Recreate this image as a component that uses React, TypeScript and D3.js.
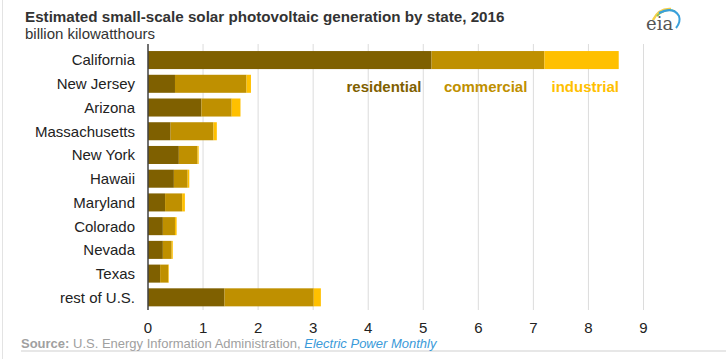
import { useEffect, useRef } from 'react'
import * as d3 from 'd3'

const STATES = [
  'California',
  'New Jersey',
  'Arizona',
  'Massachusetts',
  'New York',
  'Hawaii',
  'Maryland',
  'Colorado',
  'Nevada',
  'Texas',
  'rest of U.S.',
]
const RESIDENTIAL = [5.15, 0.49, 0.97, 0.41, 0.56, 0.47, 0.31, 0.27, 0.27, 0.22, 1.39]
const COMMERCIAL = [2.05, 1.3, 0.55, 0.78, 0.34, 0.25, 0.31, 0.22, 0.16, 0.15, 1.62]
const INDUSTRIAL = [1.35, 0.08, 0.16, 0.06, 0.02, 0.03, 0.05, 0.03, 0.02, 0.01, 0.13]
const SERIES = ['residential', 'commercial', 'industrial'] as const
const X_TICKS = [0, 1, 2, 3, 4, 5, 6, 7, 8, 9]

const WIDTH = 726
const HEIGHT = 359
const COLORS = ['#7f6000', '#bf9000', '#ffc000']
const SANS = '"Liberation Sans", Arial, sans-serif'

function App() {
  const ref = useRef<HTMLDivElement>(null)

  useEffect(() => {
    document.body.style.margin = '0'
    const container = ref.current
    if (!container) return
    d3.select(container).selectAll('svg').remove()

    const svg = d3
      .select(container)
      .append('svg')
      .attr('width', WIDTH)
      .attr('height', HEIGHT)
      .style('display', 'block')
      .style('background', '#fff')

    const x = d3.scaleLinear().domain([0, 9]).range([148, 643.5])
    const y = d3
      .scaleBand()
      .domain(STATES)
      .range([48.2, 309.2])
      .paddingInner(0.24)
      .paddingOuter(0.12)

    const rows = STATES.map((s, i) => ({
      state: s,
      residential: RESIDENTIAL[i],
      commercial: COMMERCIAL[i],
      industrial: INDUSTRIAL[i],
    }))
    const stacked = d3.stack<(typeof rows)[number]>().keys(SERIES as unknown as string[])(rows)

    // frame bits
    svg.append('line')
      .attr('x1', 2.5).attr('x2', 2.5).attr('y1', 0).attr('y2', HEIGHT)
      .attr('stroke', '#e3e3e3')
    svg.append('line')
      .attr('x1', 21).attr('x2', WIDTH).attr('y1', 351).attr('y2', 351)
      .attr('stroke', '#cfcfcf')

    // title
    svg.append('text')
      .attr('x', 25).attr('y', 22)
      .attr('font-family', SANS).attr('font-weight', 'bold').attr('font-size', 15.2)
      .attr('fill', '#333')
      .text('Estimated small-scale solar photovoltaic generation by state, 2016')
    svg.append('text')
      .attr('x', 25).attr('y', 39)
      .attr('font-family', SANS).attr('font-size', 15)
      .attr('fill', '#333')
      .text('billion kilowatthours')

    // gridlines
    svg.append('g')
      .selectAll('line')
      .data(X_TICKS.slice(1))
      .join('line')
      .attr('x1', (d) => x(d)).attr('x2', (d) => x(d))
      .attr('y1', 44).attr('y2', 310)
      .attr('stroke', '#dcdcdc').attr('stroke-width', 1)

    // bars
    svg.append('g')
      .selectAll('g')
      .data(stacked)
      .join('g')
      .attr('fill', (_, i) => COLORS[i])
      .selectAll('rect')
      .data((d) => d)
      .join('rect')
      .attr('x', (d) => x(d[0]))
      .attr('width', (d) => x(d[1]) - x(d[0]))
      .attr('y', (d) => y(d.data.state) ?? 0)
      .attr('height', y.bandwidth())

    // zero axis
    svg.append('line')
      .attr('x1', x(0)).attr('x2', x(0)).attr('y1', 44).attr('y2', 310)
      .attr('stroke', '#404040').attr('stroke-width', 1.5)

    // category labels
    svg.append('g')
      .selectAll('text')
      .data(STATES)
      .join('text')
      .attr('x', 135)
      .attr('y', (d) => (y(d) ?? 0) + y.bandwidth() / 2)
      .attr('dy', '0.36em')
      .attr('text-anchor', 'end')
      .attr('font-family', SANS).attr('font-size', 15)
      .attr('fill', '#222')
      .text((d) => d)

    // x tick labels
    svg.append('g')
      .selectAll('text')
      .data(X_TICKS)
      .join('text')
      .attr('x', (d) => x(d))
      .attr('y', 333)
      .attr('text-anchor', 'middle')
      .attr('font-family', SANS).attr('font-size', 15)
      .attr('fill', '#222')
      .text((d) => String(d))

    // legend
    const legendX = [346.5, 444, 551.5]
    SERIES.forEach((s, i) => {
      svg.append('text')
        .attr('x', legendX[i]).attr('y', 92.3)
        .attr('font-family', SANS).attr('font-weight', 'bold').attr('font-size', 15)
        .attr('fill', COLORS[i])
        .text(s)
    })

    // source
    const src = svg.append('text')
      .attr('x', 21).attr('y', 348)
      .attr('font-family', SANS).attr('font-size', 13)
      .attr('fill', '#a0a0a0')
    src.append('tspan').attr('font-weight', 'bold').text('Source:')
    src.append('tspan').text(' U.S. Energy Information Administration, ')
    src.append('tspan').attr('font-style', 'italic').attr('fill', '#3a9ad9').text('Electric Power Monthly')

    // eia logo
    const logo = svg.append('g').attr('transform', 'translate(645,0)')
    logo.append('path')
      .attr('d', 'M8,20 Q14,8 26,9')
      .attr('fill', 'none').attr('stroke', '#f5d04a').attr('stroke-width', 2.5)
    logo.append('path')
      .attr('d', 'M12,16 Q20,8 30,11')
      .attr('fill', 'none').attr('stroke', '#8cc152').attr('stroke-width', 1.8)
    logo.append('path')
      .attr('d', 'M14,13 Q28,6 34,16 Q36,22 31,28')
      .attr('fill', 'none').attr('stroke', '#3aa0dc').attr('stroke-width', 2)
    logo.append('text')
      .attr('x', 1).attr('y', 30)
      .attr('font-family', '"DejaVu Serif", "Liberation Serif", serif')
      .attr('font-size', 18)
      .attr('fill', '#555')
      .text('eia')

    return () => {
      d3.select(container).selectAll('svg').remove()
    }
  }, [])

  return <div ref={ref} style={{ width: WIDTH, height: HEIGHT }} />
}

export default App
